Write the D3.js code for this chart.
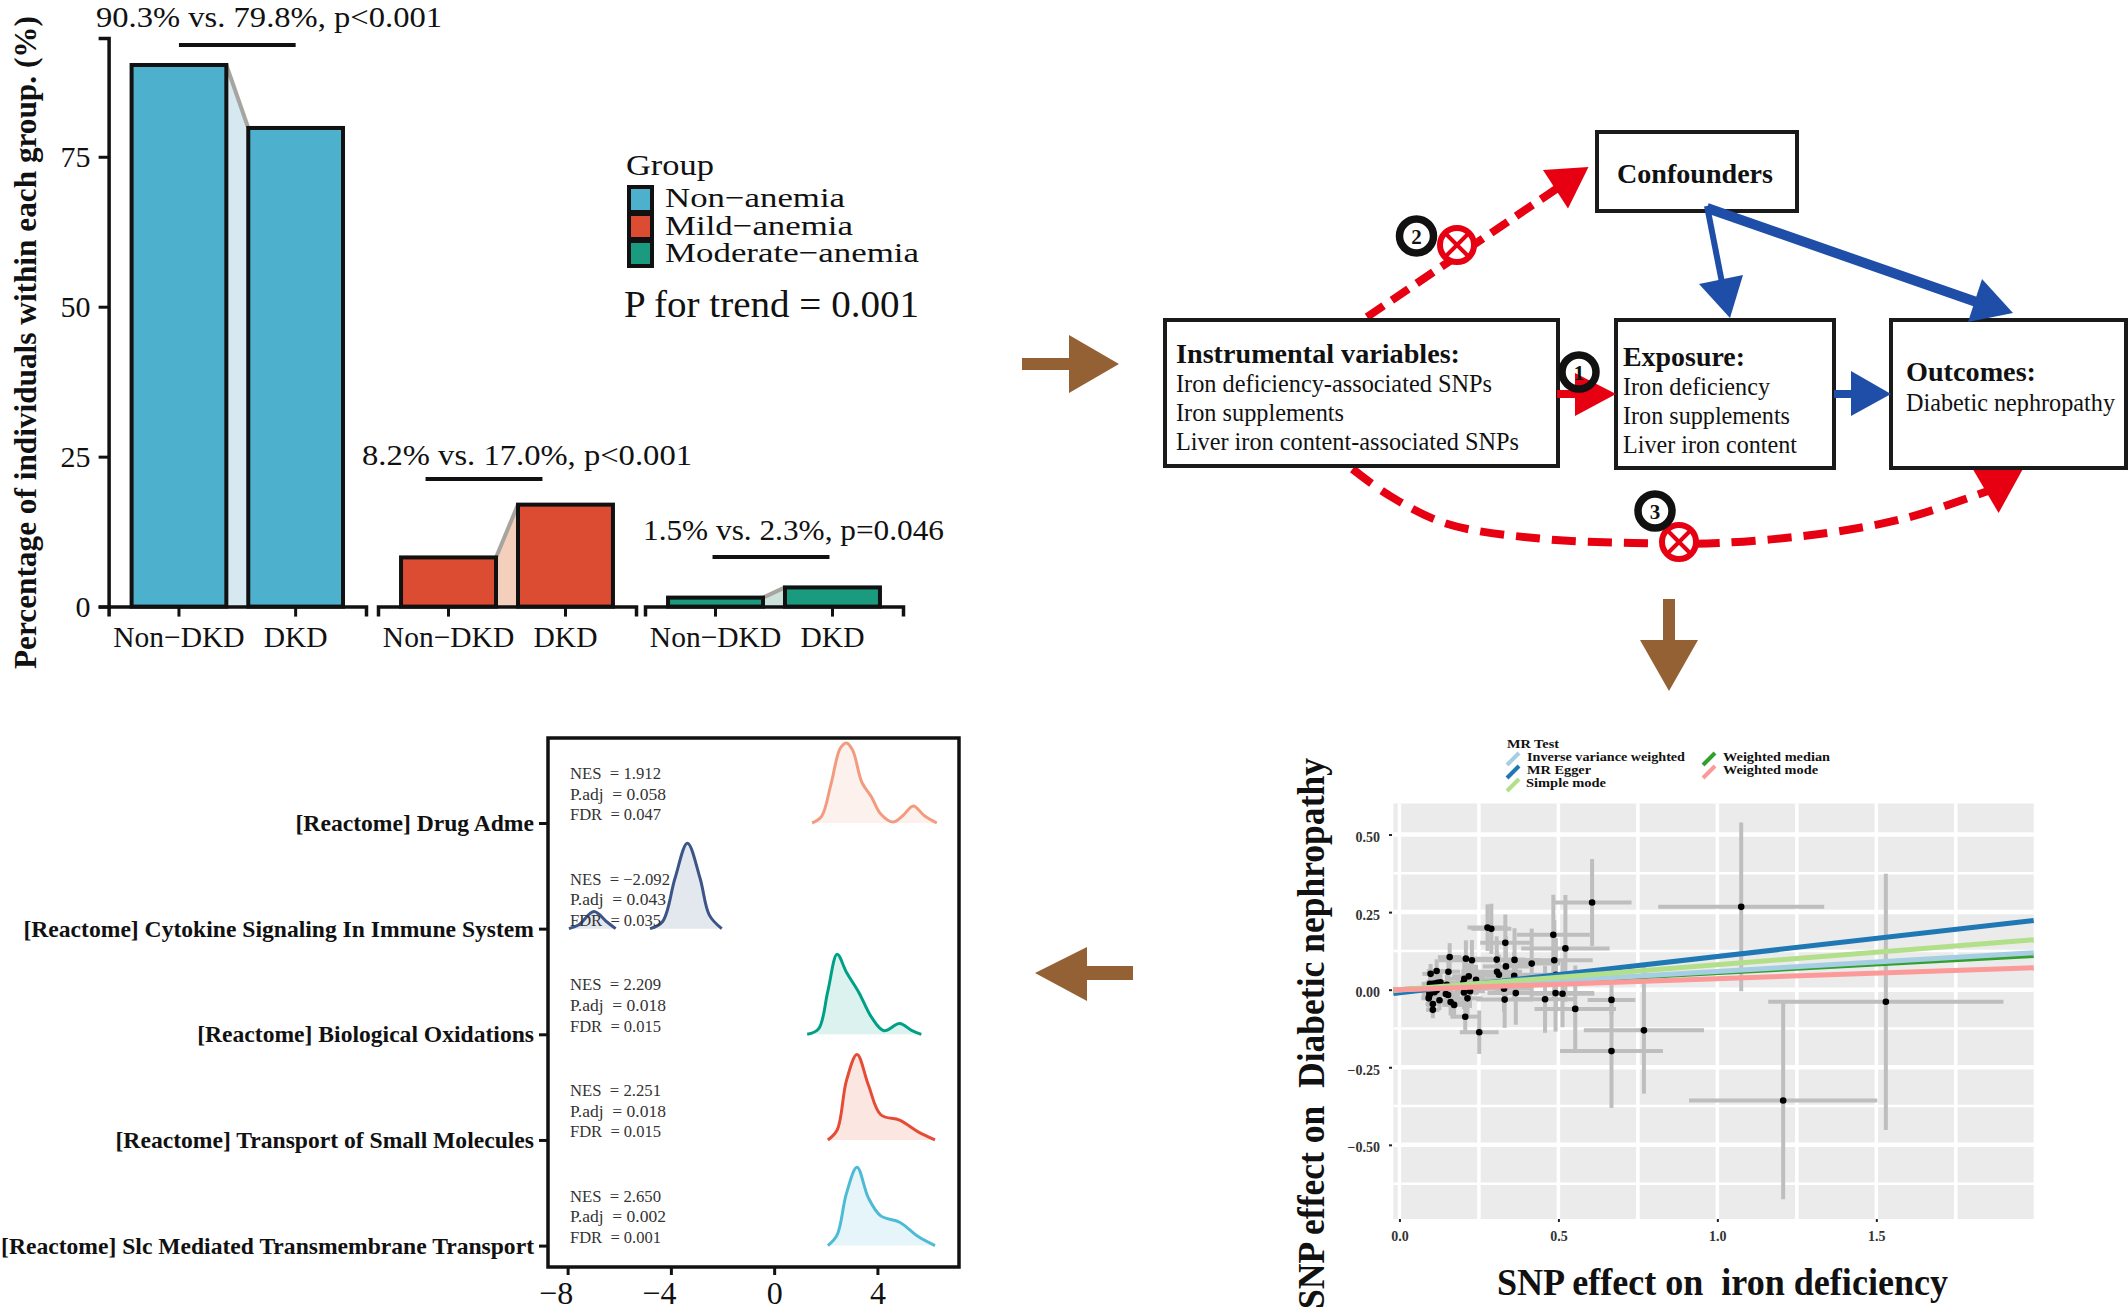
<!DOCTYPE html>
<html>
<head>
<meta charset="utf-8">
<script src="https://cdn.jsdelivr.net/npm/d3@7"></script>
<style>
body { margin: 0; background: white; }
text { font-family: "Liberation Serif", serif; fill: #111; }
</style>
</head>
<body>
<script>
// ---- bar panel data
var barCategories = ["Non\u2212DKD", "DKD"];
var barGroups = ["Non\u2212anemia", "Mild\u2212anemia", "Moderate\u2212anemia"];
var nonDkdValues = [90.3, 8.2, 1.5];
var dkdValues = [79.8, 17.0, 3.2];
var barColors = ["#4DB0CC", "#DC4C33", "#1A9A7F"];
var linkColors = ["#D6E8F0", "#F4CFBC", "#CCE3DC"];
var barNotes = ["90.3% vs. 79.8%, p<0.001", "8.2% vs. 17.0%, p<0.001", "1.5% vs. 2.3%, p=0.046"];

// ---- scatter panel data (SNP effects and half widths of the error bars)
var snpX = [0.277, 0.289, 0.333, 0.484, 0.522, 0.158, 0.209, 0.228, 0.306, 0.362, 0.487, 0.416, 0.335, 0.098, 0.117, 0.154,
    0.307, 0.313, 0.361, 0.492, 0.218, 0.204, 0.241, 0.096, 0.105, 0.112, 0.119, 0.129, 0.149, 0.201, 0.091, 0.094,
    0.096, 0.101, 0.110, 0.117, 0.146, 0.153, 0.329, 0.203, 0.222, 0.214, 0.366, 0.491, 0.513, 0.331, 0.458, 0.667,
    0.092, 0.093, 0.105, 0.105, 0.126, 0.161, 0.172, 0.207, 0.251, 0.553, 0.667, 0.769, 0.606, 1.075, 1.530, 1.207];
var snpY = [0.200, 0.196, 0.151, 0.177, 0.133, 0.105, 0.100, 0.095, 0.097, 0.096, 0.095, 0.084, 0.075, 0.051, 0.060, 0.058,
    0.058, 0.048, 0.045, 0.048, 0.043, 0.035, 0.032, 0.019, 0.019, 0.020, 0.022, 0.024, 0.016, 0.022, 0.002, -0.009,
    -0.014, -0.002, -0.008, -0.002, -0.014, -0.017, 0.003, -0.009, -0.005, -0.028, -0.011, -0.011, -0.013, -0.032, -0.031, -0.033,
    -0.028, -0.023, -0.046, -0.065, -0.034, -0.040, -0.049, -0.087, -0.137, -0.062, -0.198, -0.131, 0.281, 0.267, -0.039, -0.357];
var snpXErr = [0.063, 0.063, 0.079, 0.115, 0.139, 0.037, 0.084, 0.105, 0.089, 0.084, 0.121, 0.089, 0.073, 0.026, 0.031, 0.037,
    0.079, 0.073, 0.089, 0.105, 0.052, 0.052, 0.063, 0.026, 0.026, 0.028, 0.028, 0.030, 0.031, 0.047, 0.024, 0.024,
    0.024, 0.024, 0.026, 0.026, 0.031, 0.037, 0.084, 0.047, 0.047, 0.047, 0.089, 0.121, 0.100, 0.089, 0.100, 0.075,
    0.023, 0.023, 0.023, 0.021, 0.026, 0.037, 0.037, 0.047, 0.061, 0.128, 0.162, 0.189, 0.124, 0.261, 0.370, 0.296];
var snpYErr = [0.075, 0.081, 0.091, 0.129, 0.172, 0.045, 0.059, 0.065, 0.075, 0.102, 0.129, 0.113, 0.097, 0.032, 0.038, 0.043,
    0.065, 0.065, 0.075, 0.118, 0.043, 0.054, 0.048, 0.032, 0.032, 0.030, 0.032, 0.032, 0.032, 0.043, 0.030, 0.030,
    0.030, 0.030, 0.030, 0.030, 0.038, 0.038, 0.075, 0.054, 0.054, 0.054, 0.102, 0.124, 0.108, 0.091, 0.108, 0.048,
    0.030, 0.030, 0.032, 0.027, 0.032, 0.043, 0.043, 0.054, 0.070, 0.140, 0.183, 0.204, 0.140, 0.272, 0.413, 0.318];

var mrMethods = ["Inverse variance weighted", "MR Egger", "Simple mode", "Weighted median", "Weighted mode"];
var mrColors = ["#A6CEE3", "#1F78B4", "#B2DF8A", "#33A02C", "#FB9A99"];
var mrLeftEnd = [-0.002, -0.012, -0.002, -0.001, -0.001];
var mrRightEnd = [0.119, 0.223, 0.161, 0.110, 0.071];

// ---- ridge panel data
var ridgeNames = ["[Reactome] Drug Adme", "[Reactome] Cytokine Signaling In Immune System", "[Reactome] Biological Oxidations",
    "[Reactome] Transport of Small Molecules", "[Reactome] Slc Mediated Transmembrane Transport"];
var ridgeColors = ["#F39B7F", "#3C5488", "#00A087", "#E64B35", "#4DBBD5"];
var ridgeStats = [
    ["NES  = 1.912", "P.adj  = 0.058", "FDR  = 0.047"],
    ["NES  = \u22122.092", "P.adj  = 0.043", "FDR  = 0.035"],
    ["NES  = 2.209", "P.adj  = 0.018", "FDR  = 0.015"],
    ["NES  = 2.251", "P.adj  = 0.018", "FDR  = 0.015"],
    ["NES  = 2.650", "P.adj  = 0.002", "FDR  = 0.001"]
];
var drugX = [1.47, 1.83, 2.2, 2.56, 2.8, 3.04, 3.4, 3.77, 4.13, 4.61, 4.98, 5.39, 5.82, 6.3];
var drugDensity = [0, 0.07, 0.43, 0.83, 0.89, 0.81, 0.45, 0.29, 0.10, 0.01, 0.08, 0.19, 0.08, 0];
var cytokineLowX = [-7.95, -7.58, -6.98, -6.5, -6.14];
var cytokineLowDensity = [0, 0.04, 0.19, 0.08, 0];
var cytokineX = [-4.81, -4.32, -3.84, -3.36, -2.87, -2.51, -2.03];
var cytokineDensity = [0, 0.08, 0.56, 0.95, 0.56, 0.15, 0];
var oxidationX = [1.28, 1.72, 2.08, 2.44, 2.8, 3.29, 3.77, 4.25, 4.86, 5.34, 5.7];
var oxidationDensity = [0, 0.06, 0.48, 0.89, 0.69, 0.46, 0.19, 0.04, 0.12, 0.04, 0];
var transportX = [2.08, 2.44, 2.8, 3.21, 3.65, 4.13, 4.86, 5.58, 6.23];
var transportDensity = [0, 0.11, 0.66, 0.95, 0.61, 0.28, 0.22, 0.09, 0];
var slcX = [2.08, 2.44, 2.8, 3.21, 3.65, 4.13, 4.86, 5.58, 6.23];
var slcDensity = [0, 0.12, 0.58, 0.87, 0.53, 0.33, 0.26, 0.10, 0];

var canvas = d3.select("body").append("svg")
    .attr("width", 2128)
    .attr("height", 1310)

// text helper, width squeezes the text to what the figure shows
var label = function(parent, str, x, y, size, opts) {
    opts = opts || {};
    var t = parent.append("text")
        .attr("x", x)
        .attr("y", y)
        .attr("font-size", size)
        .attr("text-anchor", opts.anchor || "start")
        .attr("font-weight", opts.bold ? "bold" : "normal")
        .style("white-space", "pre")
        .text(str);
    if (opts.width) t.attr("textLength", opts.width).attr("lengthAdjust", "spacingAndGlyphs");
    if (opts.rotate) t.attr("transform", "rotate(-90 " + x + " " + y + ")");
    if (opts.fill) t.style("fill", opts.fill);
    return t;
}

// ======== bars, top left
var barY = d3.scaleLinear().domain([0, 94.8]).range([606.6, 38]);
var facetRanges = [[108.6, 366], [378, 636], [645, 903]];
var noteSpots = [[96, 26.5, 346], [362, 465, 330], [643, 540, 301]];
var noteBarY = [45, 479, 557];
var noteBarShift = [0, -23, -3];

var barPanel = canvas.append("g");

facetRanges.forEach(function(range, i) {
    var x = d3.scaleBand().domain(barCategories).range(range).paddingInner(0.188).paddingOuter(0.197);
    var values = [nonDkdValues[i], dkdValues[i]];
    var left = x(barCategories[0]) + x.bandwidth();
    var right = x(barCategories[1]);

    barPanel.append("polygon")
        .attr("points", [[left, barY(0)], [left, barY(values[0])], [right, barY(values[1])], [right, barY(0)]].join(" "))
        .attr("fill", linkColors[i])
    barPanel.append("line")
        .attr("x1", left).attr("y1", barY(values[0]))
        .attr("x2", right).attr("y2", barY(values[1]))
        .style("stroke", "#A8A5A0")
        .style("stroke-width", "4px")

    barPanel.selectAll(".bar" + i)
        .data(barCategories)
        .enter().append("rect")
        .attr("class", "bar" + i)
        .attr("x", function(d) { return x(d); })
        .attr("y", function(d, j) { return barY(values[j]); })
        .attr("width", x.bandwidth())
        .attr("height", function(d, j) { return barY(0) - barY(values[j]); })
        .attr("fill", barColors[i])
        .style("stroke", "#111")
        .style("stroke-width", "4px")

    var axis = barPanel.append("g")
        .attr("transform", "translate(0," + barY(0) + ")")
        .call(d3.axisBottom(x).tickSizeOuter(0).tickSize(10).tickPadding(7))
    axis.select("path").style("stroke", "#111").style("stroke-width", "3.5px")
    axis.selectAll("line").style("stroke", "#111").style("stroke-width", "3px")
    axis.selectAll("text")
        .attr("font-size", 29.5)
        .attr("font-family", "Liberation Serif")
        .attr("dy", "0.8em")

    barPanel.append("line")
        .attr("x1", x(barCategories[0]) + x.bandwidth() / 2 + noteBarShift[i])
        .attr("x2", x(barCategories[1]) + x.bandwidth() / 2 + noteBarShift[i])
        .attr("y1", noteBarY[i])
        .attr("y2", noteBarY[i])
        .style("stroke", "#111")
        .style("stroke-width", "4px")

    label(barPanel, barNotes[i], noteSpots[i][0], noteSpots[i][1], 29.5, { width: noteSpots[i][2] });
});

var barYAxis = barPanel.append("g")
    .attr("transform", "translate(108.6,0)")
    .call(d3.axisLeft(barY).tickValues([0, 25, 50, 75]).tickSizeOuter(0).tickSize(10).tickPadding(8))
barYAxis.select("path").style("stroke", "#111").style("stroke-width", "3.5px")
barYAxis.selectAll("line").style("stroke", "#111").style("stroke-width", "3px")
barYAxis.selectAll("text").attr("font-size", 30).attr("font-family", "Liberation Serif")

label(barPanel, "Percentage of individuals within each group. (%)", 36, 669, 31, { bold: true, rotate: true, width: 653 });

label(barPanel, "Group", 626, 175, 29, { width: 88 });
var legendKeyY = [187, 214, 241];
var legendTextY = [207, 235, 262];
var legendTextW = [180, 188, 254];
barGroups.forEach(function(g, i) {
    barPanel.append("rect")
        .attr("x", 629).attr("y", legendKeyY[i])
        .attr("width", 23).attr("height", 25)
        .attr("fill", barColors[i])
        .style("stroke", "#111")
        .style("stroke-width", "4px")
    label(barPanel, g, 665, legendTextY[i], 28, { width: legendTextW[i] });
});
label(barPanel, "P for trend = 0.001", 624, 317, 38, { width: 295 });

// ======== study design, top right
var red = "#E60012", blue = "#1F4EA8", brown = "#946135";
var flow = canvas.append("g");

var polygon = function(points, fill) {
    flow.append("polygon").attr("points", points.join(" ")).attr("fill", fill);
}

// red dashed path 2
flow.append("path")
    .attr("d", d3.line()([[1367, 317], [1568, 181]]))
    .attr("fill", "none")
    .style("stroke", red)
    .style("stroke-width", "8px")
    .style("stroke-dasharray", "20,10")
polygon([[1588.5, 167], [1543, 170], [1568, 208.5]], red);

// red dashed path 3
var bypassPoints = [[1352.5, 469], [1388.5, 495], [1446, 523.5], [1539.6, 538.6], [1633, 543], [1719, 543], [1827, 533], [1906, 518], [1971, 497], [1996, 488]];
flow.append("path")
    .attr("d", d3.line().curve(d3.curveCatmullRom)(bypassPoints))
    .attr("fill", "none")
    .style("stroke", red)
    .style("stroke-width", "8px")
    .style("stroke-dasharray", "24,12")
polygon([[1971, 466], [2024.5, 466], [1998.6, 513]], red);

// boxes
var flowBoxes = [
    [1597, 132, 200, 79],
    [1165, 320, 393, 146],
    [1616, 320, 218, 148],
    [1891, 320, 235, 148]
];
flow.selectAll(".flowBox")
    .data(flowBoxes)
    .enter().append("rect")
    .attr("class", "flowBox")
    .attr("x", function(d) { return d[0]; })
    .attr("y", function(d) { return d[1]; })
    .attr("width", function(d) { return d[2]; })
    .attr("height", function(d) { return d[3]; })
    .attr("fill", "white")
    .style("stroke", "#1a1a1a")
    .style("stroke-width", "4px")

label(flow, "Confounders", 1617, 183, 27, { bold: true, width: 156 });
label(flow, "Instrumental variables:", 1176, 363, 27, { bold: true, width: 284 });
label(flow, "Iron deficiency-associated SNPs", 1176, 392, 25, { width: 316 });
label(flow, "Iron supplements", 1176, 421, 25, { width: 168 });
label(flow, "Liver iron content-associated SNPs", 1176, 450, 25, { width: 343 });
label(flow, "Exposure:", 1623, 366, 27, { bold: true, width: 122 });
label(flow, "Iron deficiency", 1623, 395, 25, { width: 147 });
label(flow, "Iron supplements", 1623, 424, 25, { width: 167 });
label(flow, "Liver iron content", 1623, 453, 25, { width: 174 });
label(flow, "Outcomes:", 1906, 381, 27, { bold: true, width: 130 });
label(flow, "Diabetic nephropathy", 1906, 411, 25, { width: 209 });

// solid arrows
polygon([[1557, 390], [1575, 390], [1575, 373], [1616, 394], [1575, 416], [1575, 398], [1557, 398]], red);
polygon([[1834, 390], [1851, 390], [1851, 371], [1891, 394], [1851, 416], [1851, 398], [1834, 398]], blue);

flow.append("line")
    .attr("x1", 1707).attr("y1", 206).attr("x2", 1721.5).attr("y2", 280)
    .style("stroke", blue).style("stroke-width", "6px")
polygon([[1699, 284], [1743, 275], [1730, 318]], blue);
flow.append("line")
    .attr("x1", 1707).attr("y1", 208).attr("x2", 1985).attr("y2", 305)
    .style("stroke", blue).style("stroke-width", "10px")
polygon([[1982, 279], [1968, 322], [2013, 313]], blue);

// brown block arrows between the panels
polygon([[1022, 358], [1069, 358], [1069, 335], [1119, 364], [1069, 393], [1069, 370], [1022, 370]], brown);
polygon([[1663, 599], [1675, 599], [1675, 640], [1698, 640], [1669, 691], [1640, 640], [1663, 640]], brown);
polygon([[1133, 966], [1087, 966], [1087, 947], [1035, 973], [1087, 1001], [1087, 980], [1133, 980]], brown);

// crossed circles
var crossSpots = [[1457, 245], [1679, 542]];
crossSpots.forEach(function(c) {
    flow.append("circle")
        .attr("cx", c[0]).attr("cy", c[1]).attr("r", 17)
        .attr("fill", "white")
        .style("stroke", red)
        .style("stroke-width", "6px")
    flow.append("path")
        .attr("d", "M" + (c[0] - 12) + "," + (c[1] - 12) + "L" + (c[0] + 12) + "," + (c[1] + 12) + "M" + (c[0] + 12) + "," + (c[1] - 12) + "L" + (c[0] - 12) + "," + (c[1] + 12))
        .style("stroke", red)
        .style("stroke-width", "4px")
});

// numbered circles
var numberSpots = [[1579, 372, "1", "none"], [1416.5, 236, "2", "white"], [1655, 511, "3", "white"]];
numberSpots.forEach(function(c) {
    flow.append("circle")
        .attr("cx", c[0]).attr("cy", c[1]).attr("r", 17)
        .attr("fill", c[3])
        .style("stroke", "#111")
        .style("stroke-width", "7.5px")
    label(flow, c[2], c[0], c[1] + 7.5, 21, { bold: true, anchor: "middle" });
});

// ======== MR scatter, bottom right
var scatterX = d3.scaleLinear().domain([-0.019, 1.995]).range([1393.4, 2033.7]);
var scatterY = d3.scaleLinear().domain([-0.739, 0.6]).range([1219, 803.5]);
var scatter = canvas.append("g");

scatter.append("rect")
    .attr("x", scatterX.range()[0])
    .attr("y", scatterY.range()[1])
    .attr("width", scatterX.range()[1] - scatterX.range()[0])
    .attr("height", scatterY.range()[0] - scatterY.range()[1])
    .attr("fill", "#EBEBEB")

var xGrid = [0, 0.25, 0.5, 0.75, 1, 1.25, 1.5, 1.75];
var yGrid = [-0.625, -0.5, -0.375, -0.25, -0.125, 0, 0.125, 0.25, 0.375, 0.5];
scatter.selectAll(".xGrid")
    .data(xGrid)
    .enter().append("line")
    .attr("class", "xGrid")
    .attr("x1", function(d) { return scatterX(d); })
    .attr("x2", function(d) { return scatterX(d); })
    .attr("y1", scatterY.range()[0])
    .attr("y2", scatterY.range()[1])
    .style("stroke", "white")
    .style("stroke-width", "3.5px")
scatter.selectAll(".yGrid")
    .data(yGrid)
    .enter().append("line")
    .attr("class", "yGrid")
    .attr("x1", scatterX.range()[0])
    .attr("x2", scatterX.range()[1])
    .attr("y1", function(d) { return scatterY(d); })
    .attr("y2", function(d) { return scatterY(d); })
    .style("stroke", "white")
    .style("stroke-width", function(d) { return d * 4 % 1 === 0 ? "4.5px" : "2.5px"; })

scatter.selectAll(".xErr")
    .data(snpX)
    .enter().append("line")
    .attr("class", "xErr")
    .attr("x1", function(d, i) { return scatterX(d - snpXErr[i]); })
    .attr("x2", function(d, i) { return scatterX(d + snpXErr[i]); })
    .attr("y1", function(d, i) { return scatterY(snpY[i]); })
    .attr("y2", function(d, i) { return scatterY(snpY[i]); })
    .style("stroke", "#BEBEBE")
    .style("stroke-width", "4px")
scatter.selectAll(".yErr")
    .data(snpX)
    .enter().append("line")
    .attr("class", "yErr")
    .attr("x1", function(d) { return scatterX(d); })
    .attr("x2", function(d) { return scatterX(d); })
    .attr("y1", function(d, i) { return scatterY(snpY[i] - snpYErr[i]); })
    .attr("y2", function(d, i) { return scatterY(snpY[i] + snpYErr[i]); })
    .style("stroke", "#BEBEBE")
    .style("stroke-width", "4px")
scatter.selectAll(".snp")
    .data(snpX)
    .enter().append("circle")
    .attr("class", "snp")
    .attr("cx", function(d) { return scatterX(d); })
    .attr("cy", function(d, i) { return scatterY(snpY[i]); })
    .attr("r", 3.3)
    .attr("fill", "black")

// drawing order of the lines, median goes under the IVW band
var lineOrder = [1, 3, 0, 2, 4];
lineOrder.forEach(function(i) {
    scatter.append("line")
        .attr("x1", scatterX.range()[0])
        .attr("x2", scatterX.range()[1])
        .attr("y1", scatterY(mrLeftEnd[i]))
        .attr("y2", scatterY(mrRightEnd[i]))
        .style("stroke", mrColors[i])
        .style("stroke-width", "5px")
});

var scatterXAxis = scatter.append("g")
    .attr("transform", "translate(0,1219)")
    .call(d3.axisBottom(scatterX).tickValues([0, 0.5, 1, 1.5]).tickFormat(d3.format(".1f")).tickSize(3).tickPadding(9))
var scatterYAxis = scatter.append("g")
    .attr("transform", "translate(1392,0)")
    .call(d3.axisLeft(scatterY).tickValues([-0.5, -0.25, 0, 0.25, 0.5]).tickFormat(function(d) { return d3.format(".2f")(d).replace("-", "\u2212"); }).tickSize(3).tickPadding(9))
scatter.selectAll(".domain").remove()
scatter.selectAll(".tick line").style("stroke", "#222").style("stroke-width", "2px")
scatter.selectAll(".tick text")
    .attr("font-size", 14)
    .attr("font-weight", "bold")
    .attr("font-family", "Liberation Serif")
    .style("fill", "#333")
scatterYAxis.selectAll("text").attr("y", 2.5)

label(scatter, "SNP effect on  Diabetic nephropathy", 1324, 1309, 38, { bold: true, rotate: true, width: 551 });
label(scatter, "SNP effect on  iron deficiency", 1497, 1295, 38, { bold: true, width: 451 });

label(scatter, "MR Test", 1507, 748, 13, { bold: true, width: 52 });
var mrKeyX = [1507, 1507, 1507, 1703, 1703];
var mrKeyY = [765, 778, 791, 765, 778];
var mrTextX = [1527, 1527, 1526, 1723, 1723];
var mrTextY = [761, 774, 787, 761, 774];
var mrTextW = [158, 64, 80, 107, 95];
mrMethods.forEach(function(m, i) {
    scatter.append("line")
        .attr("x1", mrKeyX[i]).attr("y1", mrKeyY[i])
        .attr("x2", mrKeyX[i] + 12).attr("y2", mrKeyY[i] - 12)
        .style("stroke", mrColors[i])
        .style("stroke-width", "4px")
    label(scatter, m, mrTextX[i], mrTextY[i], 12, { bold: true, width: mrTextW[i] });
});

// ======== ridges, bottom left
var ridgeX = d3.scaleLinear().domain([-8.76, 7.16]).range([548, 959]);
var ridgeRow = d3.scalePoint().domain(ridgeNames).range([823, 1245.6]);
var ridgeHeight = d3.scaleLinear().domain([0, 1]).range([0, 90]);
var ridges = canvas.append("g");

var ridgeLayers = [
    [0, drugX, drugDensity],
    [1, cytokineLowX, cytokineLowDensity],
    [1, cytokineX, cytokineDensity],
    [2, oxidationX, oxidationDensity],
    [3, transportX, transportDensity],
    [4, slcX, slcDensity]
];
ridgeLayers.forEach(function(layer) {
    var base = ridgeRow(ridgeNames[layer[0]]);
    var pts = layer[1].map(function(v, i) { return [v, layer[2][i]]; });
    ridges.append("path")
        .attr("d", d3.area().curve(d3.curveCatmullRom)
            .x(function(d) { return ridgeX(d[0]); })
            .y0(base)
            .y1(function(d) { return base - ridgeHeight(d[1]); })(pts))
        .attr("fill", ridgeColors[layer[0]])
        .attr("opacity", 0.14)
    ridges.append("path")
        .attr("d", d3.line().curve(d3.curveCatmullRom)
            .x(function(d) { return ridgeX(d[0]); })
            .y(function(d) { return base - ridgeHeight(d[1]); })(pts))
        .attr("fill", "none")
        .style("stroke", ridgeColors[layer[0]])
        .style("stroke-width", "3px")
});

ridgeStats.forEach(function(lines, i) {
    var base = ridgeRow(ridgeNames[i]);
    lines.forEach(function(s, j) {
        label(ridges, s, 570, base - 44 + j * 20.6, 16, { fill: "#333", width: j === 1 ? 96 : (i === 1 && j === 0 ? 100 : 91) });
    });
});

ridges.append("rect")
    .attr("x", 548).attr("y", 738)
    .attr("width", 411).attr("height", 529)
    .attr("fill", "none")
    .style("stroke", "#111")
    .style("stroke-width", "3.5px")

var ridgeYAxis = ridges.append("g")
    .attr("transform", "translate(548,0)")
    .call(d3.axisLeft(ridgeRow).tickSizeOuter(0).tickSize(9).tickPadding(5))
ridgeYAxis.select(".domain").remove()
ridgeYAxis.selectAll("line").style("stroke", "#111").style("stroke-width", "3px")
ridgeYAxis.selectAll("text")
    .attr("font-size", 23.6)
    .attr("font-weight", "bold")
    .attr("font-family", "Liberation Serif")

var ridgeXAxis = ridges.append("g")
    .attr("transform", "translate(0,1267)")
    .call(d3.axisBottom(ridgeX).tickValues([-8, -4, 0, 4]).tickFormat(function(d) { return d3.format("d")(d).replace("-", "\u2212"); }).tickSize(8).tickPadding(6))
ridgeXAxis.select(".domain").remove()
ridgeXAxis.selectAll("line").style("stroke", "#111").style("stroke-width", "3px")
ridgeXAxis.selectAll("text")
    .attr("font-size", 32)
    .attr("font-family", "Liberation Serif")
    .attr("dx", function(d) { return d < 0 ? -12 : 0; })
</script>
</body>
</html>
